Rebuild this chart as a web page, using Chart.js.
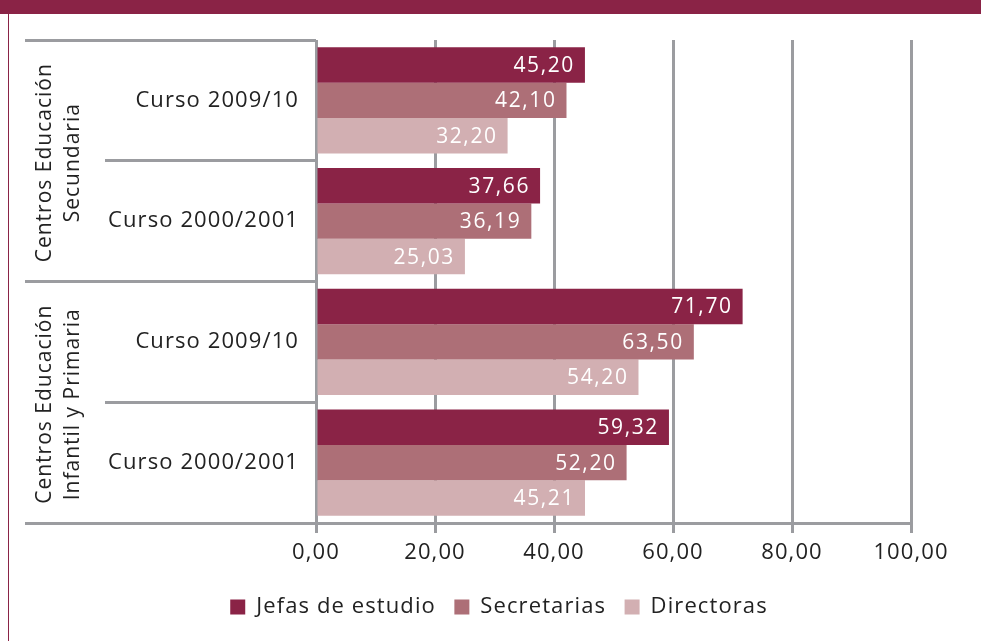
<!DOCTYPE html>
<html>
<head>
<meta charset="utf-8">
<script src="https://cdn.jsdelivr.net/npm/chart.js@4.4.0/dist/chart.umd.min.js"></script>
<style>
  html, body { margin: 0; padding: 0; background: #fff; }
  #wrap { position: relative; width: 981px; height: 641px; overflow: hidden; }
  #band { position: absolute; left: 0; top: 0; width: 981px; height: 14px; background: #8a2346; }
  #edge { position: absolute; left: 8px; top: 14px; width: 1px; height: 627px; background: #8a2346; }
  canvas { position: absolute; left: 0; top: 0; }
</style>
</head>
<body>
<div id="wrap">
  <div id="band"></div>
  <div id="edge"></div>
  <canvas id="chart" width="981" height="641"></canvas>
</div>
<script>
// categories (top to bottom)
const cursos = ["Curso 2009/10", "Curso 2000/2001", "Curso 2009/10", "Curso 2000/2001"];
const centros = [["Centros Educación", "Secundaria"], ["Centros Educación", "Infantil y Primaria"]];

// series values
const jefas = [45.20, 37.66, 71.70, 59.32];
const secretarias = [42.10, 36.19, 63.50, 52.20];
const directoras = [32.20, 25.03, 54.20, 45.21];

const xMin = 0, xMax = 100, xStep = 20;

const GRAY = "#9b9ca0";
const TEXT = "#222222";
const FONT = "'Open Sans', 'Noto Sans', sans-serif";
const SPACING = "1.1px";

function fmt(v) {
  return v.toFixed(2).replace(".", ",");
}

// spaced lettering like the original
const spacing = {
  id: "spacing",
  beforeUpdate(chart) { chart.ctx.letterSpacing = SPACING; },
  beforeDraw(chart) { chart.ctx.letterSpacing = SPACING; }
};

// white value labels inside the bar ends
const valueLabels = {
  id: "valueLabels",
  afterDatasetsDraw(chart) {
    const ctx = chart.ctx;
    ctx.save();
    ctx.font = "21px " + FONT;
    ctx.letterSpacing = "1.6px";
    ctx.fillStyle = "#fff";
    ctx.textAlign = "right";
    ctx.textBaseline = "middle";
    chart.data.datasets.forEach((ds, i) => {
      chart.getDatasetMeta(i).data.forEach((bar, j) => {
        ctx.fillText(fmt(ds.data[j]), bar.x - 10, bar.y + 1);
      });
    });
    ctx.restore();
  }
};

// rotated group labels on the outer axis
const groupLabels = {
  id: "groupLabels",
  afterDraw(chart) {
    const s = chart.scales.y2;
    const ctx = chart.ctx;
    ctx.save();
    ctx.font = "21px " + FONT;
    ctx.letterSpacing = "1px";
    ctx.fillStyle = TEXT;
    ctx.textAlign = "center";
    ctx.textBaseline = "middle";
    s.getLabels().forEach((lines, i) => {
      const y = s.getPixelForValue(i);
      ctx.save();
      ctx.translate(s.left + 34, y + 2);
      ctx.rotate(-Math.PI / 2);
      lines.forEach((t, k) => {
        ctx.fillText(t, 0, (k - (lines.length - 1) / 2) * 28);
      });
      ctx.restore();
    });
    ctx.restore();
  }
};

new Chart(document.getElementById("chart"), {
  type: "bar",
  data: {
    labels: cursos,
    datasets: [
      { label: "Jefas de estudio", data: jefas, backgroundColor: "#8a2346" },
      { label: "Secretarias", data: secretarias, backgroundColor: "#ad6f77" },
      { label: "Directoras", data: directoras, backgroundColor: "#d2afb2" }
    ]
  },
  options: {
    indexAxis: "y",
    responsive: false,
    animation: false,
    categoryPercentage: 0.88,
    barPercentage: 1.0,
    layout: { padding: { left: 25, right: 8, top: 40, bottom: 13 } },
    scales: {
      x: {
        min: xMin,
        max: xMax,
        ticks: {
          stepSize: xStep,
          color: TEXT,
          font: { size: 22, family: FONT },
          padding: 7,
          callback: (v) => fmt(v)
        },
        grid: { color: GRAY, lineWidth: 3, tickLength: 10 },
        border: { display: true, color: GRAY, width: 3 },
        afterFit(scale) { scale.height = 54.5; }
      },
      y: {
        position: "left",
        weight: 0,
        ticks: {
          color: TEXT,
          font: { size: 22, family: FONT },
          padding: -194
        },
        grid: { offset: true, drawOnChartArea: false, drawTicks: true, tickLength: 211, color: GRAY, lineWidth: 3 },
        border: { display: false },
        afterFit(scale) { scale.width = 211; }
      },
      y2: {
        type: "category",
        position: "left",
        weight: 1,
        offset: true,
        labels: centros,
        ticks: { display: false },
        grid: { offset: true, drawOnChartArea: false, drawTicks: true, tickLength: 80, color: GRAY, lineWidth: 3 },
        border: { display: false },
        afterFit(scale) { scale.width = 80; }
      },
      yR: {
        type: "linear",
        position: "right",
        ticks: { display: false },
        grid: { display: false },
        border: { display: false },
        afterFit(scale) { scale.width = 62; }
      }
    },
    plugins: {
      legend: {
        position: "bottom",
        labels: {
          boxWidth: 15,
          boxHeight: 15,
          padding: 18.5,
          color: TEXT,
          font: { size: 22, family: FONT }
        }
      },
      tooltip: { enabled: false }
    }
  },
  plugins: [spacing, valueLabels, groupLabels]
});
</script>
</body>
</html>
